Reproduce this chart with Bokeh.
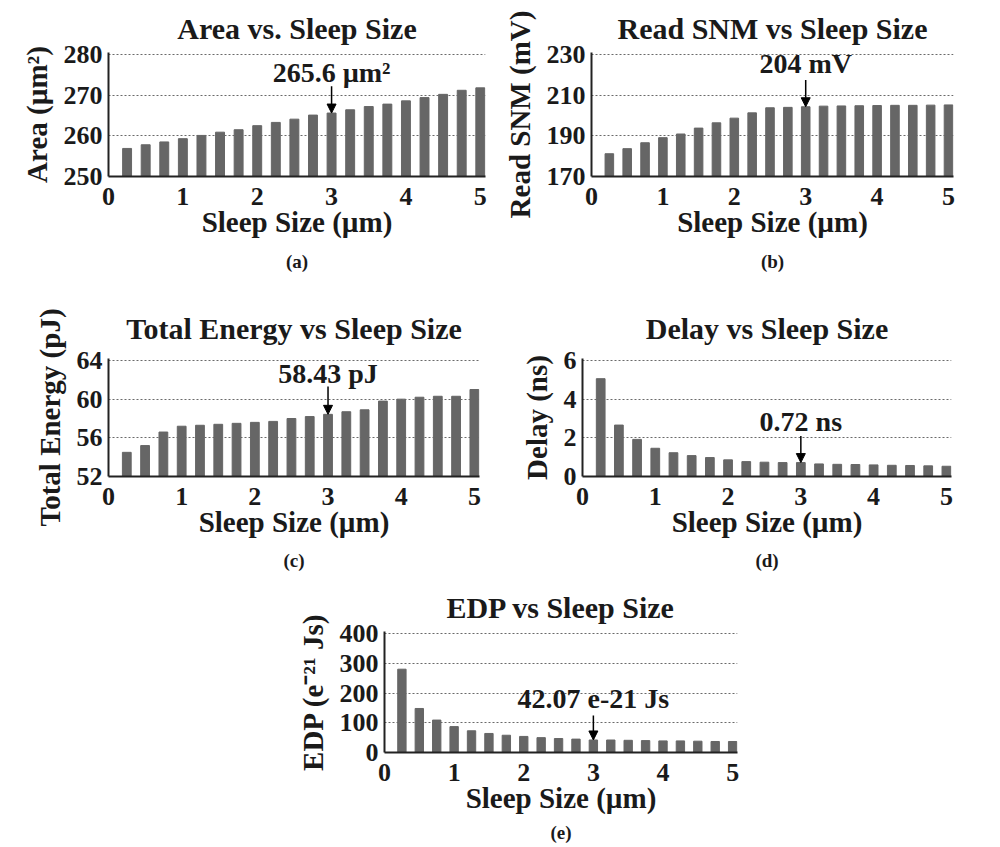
from bokeh.plotting import figure
from bokeh.models import Range1d, Label, Arrow, NormalHead, Title, FixedTicker, Spacer
from bokeh.layouts import column, row
from bokeh.embed import file_html
from bokeh.resources import INLINE

# ---------------- data ----------------
sleep_size = [0.25, 0.5, 0.75, 1.0, 1.25, 1.5, 1.75, 2.0, 2.25, 2.5,
              2.75, 3.0, 3.25, 3.5, 3.75, 4.0, 4.25, 4.5, 4.75, 5.0]
x_ticks = [0, 1, 2, 3, 4, 5]

area = [256.9, 257.8, 258.5, 259.3, 260.1, 260.9, 261.5, 262.5, 263.3, 264.1,
        265.1, 265.6, 266.4, 267.2, 267.8, 268.6, 269.4, 270.2, 271.2, 271.8]
area_ticks = [250, 260, 270, 280]

read_snm = [181.2, 183.7, 186.6, 189.1, 190.9, 193.8, 196.4, 198.7, 201.3, 203.8,
            204.0, 204.3, 204.6, 204.7, 204.8, 204.9, 205.0, 205.0, 205.1, 205.2]
snm_ticks = [170, 190, 210, 230]

energy = [54.5, 55.2, 56.6, 57.2, 57.3, 57.4, 57.5, 57.6, 57.7, 58.0,
          58.2, 58.43, 58.7, 58.9, 59.8, 60.0, 60.2, 60.3, 60.3, 61.0]
energy_ticks = [52, 56, 60, 64]

delay = [5.06, 2.66, 1.92, 1.46, 1.23, 1.08, 0.98, 0.86, 0.77, 0.74,
         0.72, 0.72, 0.65, 0.63, 0.62, 0.60, 0.58, 0.57, 0.55, 0.53]
delay_ticks = [0, 2, 4, 6]

edp = [280, 148, 109, 87, 73, 64, 58, 54, 50, 47,
       45, 42.07, 42, 41, 40, 39, 39, 38, 37, 37]
edp_ticks = [0, 100, 200, 300, 400]

FONT = "Liberation Serif"
BAR = "#666666"
INK = "#1a1a1a"
X_END = 5.07


def panel(title, caption, ylabel, vals, yticks, note, note_y, arrow_y0, arrow_y1,
          w, h, bl, br, grid_top, grid_bot, title_so, cap_so):
    span = yticks[-1] - yticks[0]
    per_px = span / (grid_bot - grid_top)
    p = figure(width=w, height=h, x_range=Range1d(0, X_END),
               y_range=Range1d(yticks[0], yticks[-1] + 2 * per_px),
               output_backend="svg", toolbar_location=None,
               min_border_left=bl, min_border_right=br,
               min_border_top=grid_top - 2, min_border_bottom=h - grid_bot)
    p.vbar(x=sleep_size, top=vals, bottom=yticks[0], width=0.12,
           fill_color=BAR, line_color=BAR)
    p.outline_line_color = None
    p.background_fill_color = "white"
    p.border_fill_color = "white"

    p.title.text = title
    p.title.align = "center"
    p.title.text_font = FONT
    p.title.text_font_size = "30px"
    p.title.text_font_style = "bold"
    p.title.text_color = INK
    p.title.standoff = title_so

    p.xaxis.ticker = FixedTicker(ticks=x_ticks)
    p.yaxis.ticker = FixedTicker(ticks=yticks)
    p.xgrid.visible = False
    p.ygrid.ticker = FixedTicker(ticks=yticks)
    p.ygrid.grid_line_color = "#6a6a6a"
    p.ygrid.grid_line_dash = "2 2"
    p.ygrid.grid_line_width = 1

    for ax in (p.xaxis, p.yaxis):
        ax.axis_line_width = 2
        ax.axis_line_color = "#222222"
        ax.major_tick_line_color = None
        ax.minor_tick_line_color = None
        ax.major_label_text_font = FONT
        ax.major_label_text_font_style = "bold"
        ax.major_label_text_font_size = "26px"
        ax.major_label_text_color = INK
        ax.axis_label_text_font = FONT
        ax.axis_label_text_font_style = "bold"
        ax.axis_label_text_font_size = "29px"
        ax.axis_label_text_color = INK
    p.xaxis.major_label_standoff = 5
    p.yaxis.major_label_standoff = 0
    p.xaxis.axis_label = "Sleep Size (µm)"
    p.xaxis.axis_label_standoff = -2
    p.yaxis.axis_label = ylabel
    p.yaxis.axis_label_standoff = 8

    # value call-out with arrow at 3 µm
    p.add_layout(Label(x=3.0, y=note_y, text=note, text_align="center",
                       text_baseline="middle", text_font=FONT,
                       text_font_style="bold", text_font_size="28px",
                       text_color=INK))
    p.add_layout(Arrow(end=NormalHead(size=9, fill_color="black", line_color="black"),
                       x_start=3.0, y_start=arrow_y0, x_end=3.0, y_end=arrow_y1,
                       line_color="black", line_width=1.5))

    p.add_layout(Title(text=caption, align="center", text_font=FONT,
                       text_font_style="bold", text_font_size="19px",
                       text_color=INK, standoff=cap_so), "below")
    return p


pa = panel("Area vs. Sleep Size", "(a)", "Area (µm²)", area, area_ticks,
           "265.6 µm²", 275.6, 272.2, area[11],
           500, 290, 108, 15, 54, 176, 16, 17)
pb = panel("Read SNM vs Sleep Size", "(b)", "Read SNM (mV)", read_snm, snm_ticks,
           "204 mV", 225.5, 217.4, read_snm[11],
           500, 290, 90, 47, 54, 176, 16, 17)
pc = panel("Total Energy vs Sleep Size", "(c)", "Total Energy (pJ)", energy, energy_ticks,
           "58.43 pJ", 62.66, 61.3, energy[11],
           500, 290, 108, 21, 70, 186, 27, 15)
pd = panel("Delay vs Sleep Size", "(d)", "Delay (ns)", delay, delay_ticks,
           "0.72 ns", 2.87, 2.1, delay[11],
           500, 290, 82, 49, 70, 186, 27, 15)
pe = panel("EDP vs Sleep Size", "(e)", "EDP (e⁻²¹ Js)", edp, edp_ticks,
           "42.07 e-21 Js", 181, 124, edp[11],
           500, 267, 126, 21, 53, 172, 15, 6)

layout = column(
    row(pa, pb),
    row(pc, pd),
    row(Spacer(width=258, height=267), pe, Spacer(width=242, height=267)),
)

open("out.html", "w").write(file_html(layout, INLINE))
